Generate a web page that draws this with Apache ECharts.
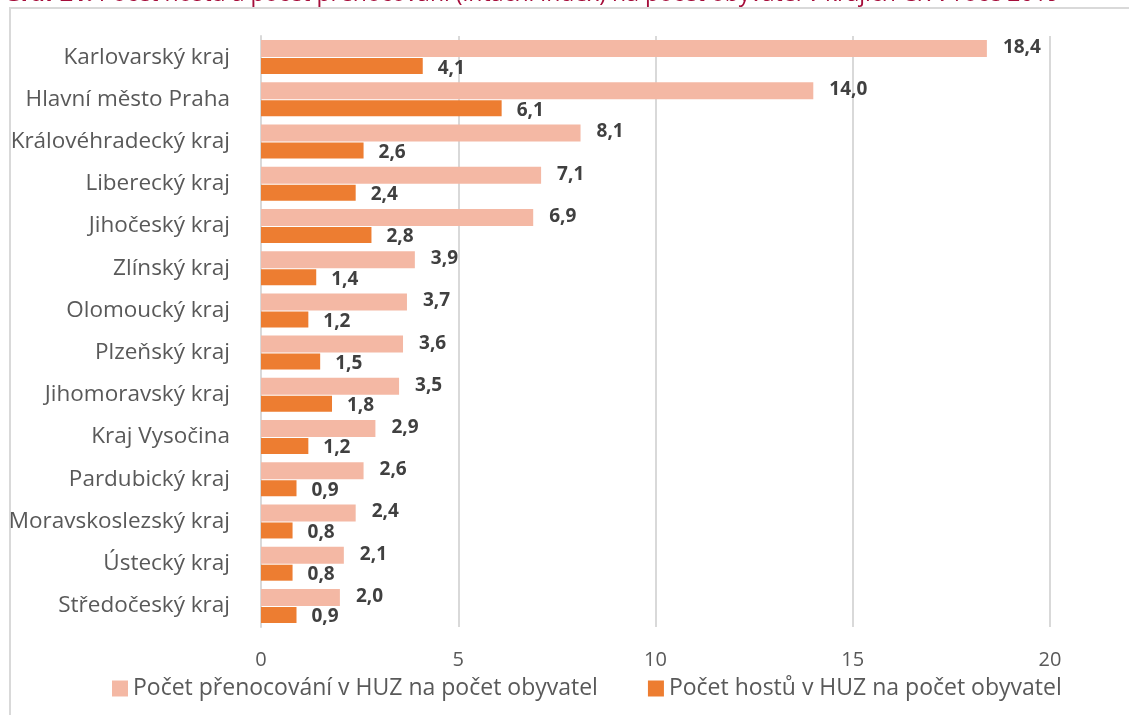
<!DOCTYPE html>
<html><head><meta charset="utf-8">
<script src="https://cdn.jsdelivr.net/npm/echarts@6/dist/echarts.min.js"></script>
<style>html,body{margin:0;padding:0;background:#fff}#c{width:1129px;height:715px}</style>
</head><body><div id="c"></div>
<script>
const categories = ["Karlovarský kraj","Hlavní město Praha","Královéhradecký kraj","Liberecký kraj","Jihočeský kraj","Zlínský kraj","Olomoucký kraj","Plzeňský kraj","Jihomoravský kraj","Kraj Vysočina","Pardubický kraj","Moravskoslezský kraj","Ústecký kraj","Středočeský kraj"];
const prenocovani = [18.4,14.0,8.1,7.1,6.9,3.9,3.7,3.6,3.5,2.9,2.6,2.4,2.1,2.0];
const hoste = [4.1,6.1,2.6,2.4,2.8,1.4,1.2,1.5,1.8,1.2,0.9,0.8,0.8,0.9];
const seriesNames = ["Počet přenocování v HUZ na počet obyvatel","Počet hostů v HUZ na počet obyvatel"];
const titleLabel = "Graf 21:";
const titleText = " Počet hostů a počet přenocování (intační index) na počet obyvatel v krajích ČR v roce 2019";

const font = "'Open Sans', 'Noto Sans', sans-serif";
const chart = echarts.init(document.getElementById('c'), null, {renderer:'canvas'});
const fmt = p => p.value.toFixed(1).replace('.', ',');
chart.setOption({
  animation:false,
  textStyle:{fontFamily:font},
  graphic:[
    {type:'rect', shape:{x:10,y:8,width:1140,height:720}, style:{fill:'none', stroke:'#d9d9d9', lineWidth:2}, z:-1},
    {type:'text', left:4, top:-17, z:10, style:{text:'{b|' + titleLabel + '}{n|' + titleText + '}',
      rich:{b:{fill:'#a50d3a', fontSize:23, fontWeight:'bold', fontFamily:font},
            n:{fill:'#a50d3a', fontSize:23, fontFamily:font}}}}
  ],
  grid:{left:261, right:79, top:36, bottom:88, containLabel:false},
  xAxis:{type:'value', min:0, max:20, interval:5,
    axisLine:{show:false}, axisTick:{show:false},
    splitLine:{lineStyle:{color:'#d9d9d9', width:2}},
    axisLabel:{color:'#595959', fontSize:20, margin:23, fontFamily:font}},
  yAxis:{type:'category', data:categories, inverse:true,
    axisLine:{show:true, lineStyle:{color:'#d9d9d9', width:2}}, axisTick:{show:false},
    axisLabel:{color:'#595959', fontSize:22.5, margin:31, fontFamily:font}},
  legend:{bottom:10, left:107, itemWidth:16, itemHeight:16, itemGap:50,
    icon:'rect', textStyle:{color:'#595959', fontSize:23, fontFamily:font},
    data:seriesNames},
  series:[
    {name:seriesNames[0], type:'bar', data:prenocovani, barWidth:17, barGap:'6%',
     itemStyle:{color:'#F4B8A4'},
     label:{show:true, position:'right', distance:16, offset:[0,-1], formatter:fmt, color:'#404040', fontSize:19, fontWeight:'bold', fontFamily:font}},
    {name:seriesNames[1], type:'bar', data:hoste, barWidth:16,
     itemStyle:{color:'#ED7D31'},
     label:{show:true, position:'right', distance:15, offset:[0,2], formatter:fmt, color:'#404040', fontSize:19, fontWeight:'bold', fontFamily:font}}
  ]
});
</script></body></html>
